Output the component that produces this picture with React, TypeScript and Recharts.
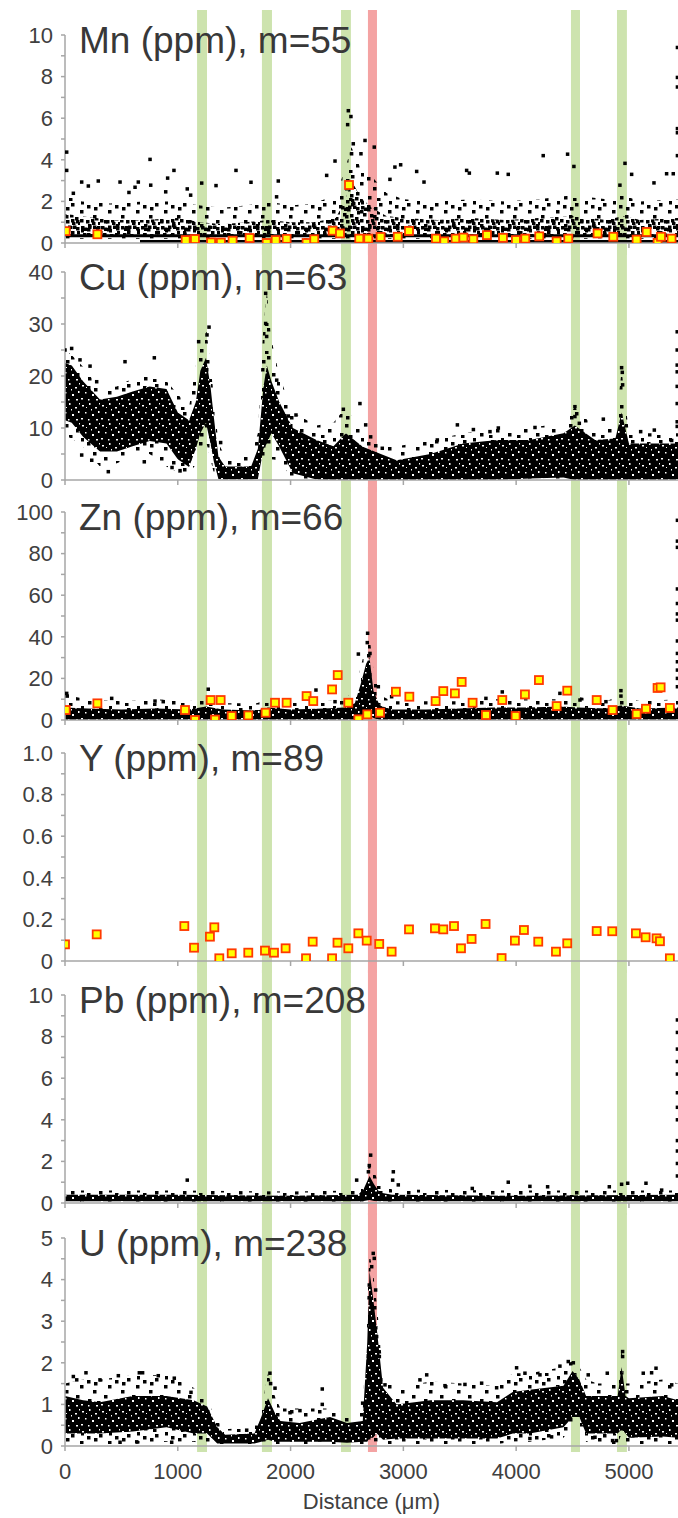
import { ComposedChart, XAxis, YAxis, Area, Scatter, ReferenceArea, ReferenceLine, Label } from 'recharts'

const X_MAX = 5435
const xTicks = [0, 1000, 2000, 3000, 4000, 5000]

// highlighted zones along the traverse (µm)
const greenBands = [[1171, 1259], [1746, 1835], [2447, 2535], [4486, 4566], [4894, 4982]]
const redBands = [[2686, 2766]]

// cloud envelopes: [x, haloLo, haloHi, coreLo, coreHi]
const mnCloud = [
  [0, 0.2, 2.3, 0.3, 1.4], [150, 0.2, 2.0, 0.3, 1.3], [400, 0.2, 1.9, 0.3, 1.1], [700, 0.2, 2.0, 0.3, 1.1],
  [1000, 0.2, 2.0, 0.3, 1.2], [1200, 0.2, 1.8, 0.3, 1.0], [1400, 0.2, 1.7, 0.3, 0.9], [1600, 0.2, 1.8, 0.3, 1.0],
  [1800, 0.2, 2.0, 0.3, 1.1], [2000, 0.2, 1.8, 0.3, 1.0], [2200, 0.2, 1.9, 0.3, 1.0], [2400, 0.2, 2.3, 0.3, 1.2],
  [2480, 0.2, 3.5, 0.3, 2.0], [2540, 0.2, 4.6, 0.3, 3.0], [2620, 0.2, 3.6, 0.3, 2.2], [2720, 0.2, 3.2, 0.3, 1.7],
  [2850, 0.2, 2.4, 0.3, 1.3], [3000, 0.2, 2.1, 0.3, 1.2], [3300, 0.2, 2.0, 0.3, 1.1], [3600, 0.2, 2.1, 0.3, 1.2],
  [3900, 0.2, 2.0, 0.3, 1.1], [4200, 0.2, 2.1, 0.3, 1.2], [4500, 0.2, 2.3, 0.3, 1.3], [4800, 0.2, 2.1, 0.3, 1.1],
  [4950, 0.2, 2.3, 0.3, 1.3], [5100, 0.2, 2.0, 0.3, 1.1], [5435, 0.2, 2.1, 0.3, 1.2],
]
const mnFloors = [[0, 5435, 0.35], [665, 5435, 0.07]]
const mnScatter = [
  [15, 4.37], [15, 3.49], [74, 2.39], [148, 2.93], [207, 2.74], [295, 2.98], [488, 2.93], [567, 2.43], [621, 2.68],
  [650, 2.93], [754, 4.02], [760, 2.78], [893, 2.46], [910, 3.12], [966, 3.49], [1084, 2.6], [1114, 2.3], [1212, 2.88],
  [1339, 2.76], [1516, 3.49], [1649, 2.92], [1876, 2.22], [1891, 2.98], [2320, 3.25], [2394, 3.94], [2506, 5.69],
  [2512, 6.36], [2535, 6.08], [2541, 4.29], [2556, 4.77], [2624, 4.29], [2660, 4.93], [2742, 4.61], [2881, 3.06],
  [2925, 3.65], [2976, 3.76], [3118, 3.44], [3183, 2.93], [3561, 3.49], [3585, 3.36], [3833, 3.36], [3930, 3.3],
  [4240, 4.2], [4456, 4.27], [4512, 3.68], [4920, 2.78], [4965, 3.83], [5024, 3.3], [5222, 2.89], [5334, 3.33],
  [5393, 3.33], [5430, 9.4], [5430, 7.96], [5430, 7.5], [5430, 5.5], [5430, 5.3], [5430, 4.2],
]
const mnMeasured = [
  [6, 0.57], [287, 0.42], [1070, 0.14], [1152, 0.19], [1295, 0.03], [1382, 0.02], [1486, 0.11], [1637, 0.24],
  [1788, 0.0], [1868, 0.14], [1965, 0.2], [2142, 0.0], [2210, 0.18], [2373, 0.59], [2438, 0.46], [2518, 2.79],
  [2609, 0.21], [2689, 0.21], [2798, 0.29], [2950, 0.3], [3050, 0.58], [3289, 0.21], [3363, 0.08], [3463, 0.21],
  [3532, 0.26], [3620, 0.18], [3741, 0.38], [3883, 0.25], [3998, 0.14], [4081, 0.21], [4205, 0.32], [4359, 0.08],
  [4462, 0.21], [4722, 0.46], [4861, 0.3], [5068, 0.16], [5157, 0.53], [5254, 0.01], [5284, 0.3], [5378, 0.21],
]

const cuCloud = [
  [0, 8.5, 25, 11.5, 22.5], [60, 8, 24, 11, 22], [160, 6.4, 21.8, 8.3, 19], [310, 2.6, 17.5, 5.5, 15.5],
  [460, 3.2, 18, 5.5, 16], [600, 4.5, 19.5, 6.5, 17], [750, 5, 20.5, 7.5, 18], [900, 2.6, 19, 7, 17.5],
  [1000, 1.5, 16.5, 4, 13], [1100, 1.3, 14, 2.5, 11.5], [1160, 3, 22, 6, 15], [1200, 6, 27, 9, 21],
  [1250, 7.5, 29.5, 11, 23.5], [1290, 4, 22, 7, 18], [1320, 1.3, 16, 3.5, 12], [1360, 0, 7, 0.2, 4.5],
  [1420, 0, 4.5, 0.1, 2.6], [1650, 0, 4.5, 0.1, 2.6], [1710, 0, 9, 0.2, 6], [1760, 3, 30, 6, 18],
  [1790, 4, 36, 7, 22], [1830, 4, 27, 9, 19], [1900, 3.8, 20, 6.4, 15], [2020, 0, 13, 1.3, 10],
  [2230, 0, 10.5, 0.1, 7.7], [2380, 0, 11, 0, 6.5], [2490, 0, 14, 0, 9], [2640, 0, 9, 0, 6.4],
  [2800, 0, 6.5, 0, 5], [2940, 0, 6.5, 0, 3.8], [3240, 0, 7.5, 0, 5], [3530, 0, 9, 0, 7],
  [3830, 0, 10, 0, 7.7], [4120, 0, 10, 0.3, 7.7], [4420, 0, 11, 0.5, 9], [4520, 0, 14, 0, 10.5],
  [4700, 0, 10, 0, 7.7], [4880, 0, 10, 0, 8], [4935, 0, 21, 0, 13], [5000, 0, 9, 0, 7],
  [5300, 0, 9, 0, 7], [5435, 0, 9, 0, 7],
]
const cuScatter = [
  [0, 25], [59, 25.3], [133, 23.1], [222, 21.9], [281, 18.9], [532, 22.75], [792, 23.5], [148, 4.8], [237, 3.8],
  [384, 1.6], [703, 3.5], [949, 2.4], [1020, 1.8], [1185, 26.6], [1259, 27.9], [1277, 29.4], [1380, 7.2],
  [1779, 35.9], [1779, 30.1], [1788, 27.6], [1877, 19.2], [1980, 12.3], [2048, 12.5], [2113, 8.3], [2468, 13.6],
  [2615, 14.7], [2666, 10.6], [2710, 8.3], [2813, 6.1], [3301, 7.7], [3479, 10.6], [3621, 9.7], [3768, 9.3],
  [3842, 10], [4167, 10.1], [4521, 14.1], [4521, 12.2], [4560, 10.9], [4773, 11.7], [4935, 21.6], [4941, 20.7],
  [4944, 18.3], [5104, 9.3], [5225, 9.6], [5379, 7.6], [5428, 28.5], [5428, 25], [5428, 22.1], [5428, 20.8],
  [5428, 18], [5428, 14.7], [5428, 11.2], [5428, 10.3],
]

const znCloud = [
  [0, 0, 12, 0, 6], [200, 0, 10, 0, 5.5], [500, 0, 9, 0, 5], [800, 0, 10, 0, 5.5], [1100, 0, 9, 0, 5],
  [1250, 0, 11, 0, 6.5], [1400, 0, 8, 0, 5], [1700, 0, 8, 0, 4.5], [1800, 0, 10, 0, 6], [2000, 0, 9, 0, 5],
  [2300, 0, 9, 0, 5.5], [2480, 0, 10, 0, 6], [2570, 0, 15, 0, 8], [2620, 0, 25, 1, 17], [2670, 0, 36, 2, 27],
  [2700, 0, 40, 2, 30], [2735, 0, 24, 1, 14], [2790, 0, 12, 0, 7], [2900, 0, 9, 0, 5], [3200, 0, 9, 0, 5],
  [3500, 0, 9, 0, 5.5], [3800, 0, 10, 0, 6], [4100, 0, 10, 0, 6], [4400, 0, 10, 0, 6.5], [4550, 0, 11, 0, 6],
  [4800, 0, 9, 0, 5.5], [4930, 0, 12, 0, 7], [5100, 0, 9, 0, 5.5], [5435, 0, 10, 0, 6],
]
const znScatter = [
  [15, 12.8], [20, 11.5], [414, 10.4], [798, 9.1], [871, 8.8], [1270, 14.8], [2225, 14.4], [2394, 8.8],
  [2601, 31.7], [2680, 37.2], [2683, 41.7], [2704, 32], [2778, 16], [2896, 11.2], [3732, 10.4], [3877, 13.5],
  [4388, 12.8], [4566, 9.6], [4796, 8.8], [4929, 14.1], [4929, 11.5], [5430, 96], [5430, 86], [5430, 83],
  [5430, 63], [5430, 56], [5430, 51], [5430, 48], [5430, 38], [5430, 32], [5430, 28], [5430, 24], [5430, 20],
  [5430, 16],
]
const znMeasured = [
  [6, 4.8], [287, 8.0], [1064, 4.8], [1152, 0], [1291, 9.6], [1330, 0.2], [1380, 9.6], [1478, 1.9], [1625, 2.2],
  [1779, 3.5], [1862, 8.3], [1965, 8.3], [2142, 11.5], [2201, 9.1], [2368, 14.7], [2418, 21.6], [2512, 8.3],
  [2601, 0.3], [2680, 2.7], [2793, 3.5], [2934, 13.6], [3053, 11.2], [3286, 9.1], [3354, 13.9], [3457, 12.8],
  [3517, 18.3], [3614, 8.3], [3732, 2.4], [3877, 9.6], [3995, 1.9], [4078, 12.3], [4202, 19.2], [4359, 6.7],
  [4453, 14.1], [4714, 9.6], [4855, 4.8], [5068, 2.9], [5151, 5.4], [5254, 15.4], [5281, 15.7], [5363, 5.8],
]

const yMeasured = [
  [0, 0.08], [281, 0.128], [1058, 0.168], [1144, 0.064], [1285, 0.117], [1324, 0.162], [1368, 0.013], [1478, 0.037],
  [1625, 0.04], [1773, 0.05], [1853, 0.04], [1956, 0.061], [2137, 0.013], [2196, 0.093], [2368, 0.013], [2416, 0.088],
  [2512, 0.061], [2601, 0.133], [2675, 0.098], [2786, 0.082], [2896, 0.045], [3050, 0.152], [3280, 0.157],
  [3354, 0.152], [3449, 0.168], [3511, 0.061], [3605, 0.106], [3729, 0.178], [3871, 0.014], [3989, 0.098],
  [4069, 0.149], [4196, 0.093], [4353, 0.045], [4453, 0.085], [4714, 0.144], [4852, 0.143], [5062, 0.133],
  [5148, 0.114], [5245, 0.109], [5275, 0.095], [5363, 0.013],
]

const pbCloud = [
  [0, 0.05, 0.6, 0.08, 0.4], [1000, 0.05, 0.6, 0.08, 0.4], [2000, 0.05, 0.55, 0.08, 0.35], [2600, 0.05, 0.6, 0.08, 0.4],
  [2650, 0.05, 1.1, 0.1, 0.7], [2700, 0.05, 1.9, 0.15, 1.3], [2740, 0.05, 1.5, 0.1, 0.9], [2790, 0.05, 0.9, 0.08, 0.5],
  [2900, 0.05, 0.65, 0.08, 0.4], [4000, 0.05, 0.6, 0.08, 0.35], [5435, 0.05, 0.6, 0.08, 0.4],
]
const pbScatter = [
  [1084, 1.1], [2586, 1.1], [2690, 1.5], [2698, 1.8], [2710, 2.3], [2905, 1.1], [2911, 1.5], [2955, 0.87],
  [3611, 0.7], [3930, 1.0], [4122, 0.8], [4279, 0.78], [4826, 0.78], [4935, 0.9], [4989, 0.95], [5151, 0.95],
  [5290, 0.62], [5430, 8.8], [5430, 8.2], [5430, 7.4], [5430, 6.8], [5430, 6.2], [5430, 5.3], [5430, 4.6],
  [5430, 4.0], [5430, 3.0], [5430, 2.5], [5430, 1.9], [5430, 1.3],
]

const uCloud = [
  [0, 0.05, 1.5, 0.3, 1.2], [160, 0.05, 1.6, 0.3, 1.1], [310, 0.05, 1.6, 0.3, 1.05], [600, 0.05, 1.7, 0.35, 1.2],
  [900, 0.1, 1.7, 0.45, 1.2], [1140, 0.1, 1.4, 0.3, 1.1], [1260, 0.05, 1.1, 0.3, 0.95], [1350, 0.05, 0.6, 0.06, 0.45],
  [1420, 0.05, 0.4, 0.06, 0.27], [1680, 0.05, 0.45, 0.06, 0.3], [1740, 0.05, 0.9, 0.1, 0.7], [1800, 0.1, 1.75, 0.15, 1.15],
  [1860, 0.05, 1.2, 0.1, 0.8], [1910, 0.05, 0.9, 0.1, 0.6], [2080, 0.05, 0.9, 0.1, 0.55], [2350, 0.05, 0.9, 0.1, 0.7],
  [2500, 0.05, 0.75, 0.08, 0.55], [2640, 0.05, 0.85, 0.1, 0.6], [2680, 0.05, 3.5, 0.1, 2.5], [2700, 0.1, 4.6, 0.2, 4.2],
  [2730, 0.1, 4.2, 0.2, 3.6], [2765, 0.1, 3.4, 0.3, 2.8], [2820, 0.05, 1.7, 0.15, 1.4], [2940, 0.05, 1.4, 0.18, 1.0],
  [3240, 0.05, 1.55, 0.18, 1.1], [3530, 0.05, 1.5, 0.18, 1.1], [3830, 0.05, 1.45, 0.18, 1.05], [3970, 0.1, 1.75, 0.3, 1.3],
  [4120, 0.1, 1.75, 0.3, 1.35], [4420, 0.2, 1.9, 0.45, 1.45], [4500, 0.5, 2.05, 0.7, 1.8], [4560, 0.5, 1.9, 0.7, 1.6],
  [4620, 0.1, 1.6, 0.3, 1.2], [4720, 0.05, 1.5, 0.3, 1.2], [4900, 0.05, 1.5, 0.3, 1.2], [4935, 0.3, 2.3, 0.4, 1.9],
  [4970, 0.1, 1.5, 0.3, 1.2], [5000, 0.05, 1.5, 0.2, 1.15], [5300, 0.05, 1.6, 0.23, 1.2], [5435, 0.05, 1.5, 0.2, 1.1],
]
const uScatter = [
  [74, 1.67], [104, 1.59], [186, 1.76], [310, 1.59], [473, 1.69], [659, 1.76], [688, 1.76], [827, 1.69], [969, 1.63],
  [1117, 1.29], [488, 0.09], [636, 0.1], [946, 0.09], [1611, 0.38], [1700, 0.45], [1817, 1.75], [1823, 1.5],
  [1862, 1.39], [1995, 0.8], [2083, 0.85], [2281, 1.37], [2281, 1.0], [2639, 1.03], [2698, 3.87], [2704, 2.87],
  [2719, 4.31], [2733, 4.63], [2742, 4.51], [2754, 3.75], [2763, 2.63], [2787, 2.15], [2837, 1.47], [3147, 1.59],
  [3207, 1.71], [3369, 1.45], [3546, 1.48], [3694, 1.51], [3827, 1.4], [4004, 1.88], [4078, 1.75], [4211, 1.71],
  [4388, 1.92], [4462, 2.03], [4507, 2.0], [4639, 1.71], [4808, 1.75], [4944, 2.27], [4944, 2.15], [5127, 1.75],
  [5201, 1.76], [5240, 1.87], [5379, 1.47], [4122, 0.18], [4314, 0.22], [4699, 0.21], [4855, 0.13], [4889, 0.13],
]

const mnTicks = [0, 1, 2, 3, 4, 5, 6, 7, 8, 9, 10]
const mnMajor = [0, 2, 4, 6, 8, 10]
const cuTicks = [0, 5, 10, 15, 20, 25, 30, 35, 40]
const cuMajor = [0, 10, 20, 30, 40]
const znTicks = [0, 10, 20, 30, 40, 50, 60, 70, 80, 90, 100]
const znMajor = [0, 20, 40, 60, 80, 100]
const yTicks = [0, 0.1, 0.2, 0.3, 0.4, 0.5, 0.6, 0.7, 0.8, 0.9, 1.0]
const yMajor = [0, 0.2, 0.4, 0.6, 0.8, 1.0]
const uTicks = [0, 0.5, 1, 1.5, 2, 2.5, 3, 3.5, 4, 4.5, 5]
const uMajor = [0, 1, 2, 3, 4, 5]

const AXIS = '#a6a6a6'
const INK = '#404040'
const FONT = '"Liberation Sans", Arial, sans-serif'
const PLOT_H = 208

const toRows = (rows: number[][]) => rows.map(([x, a, b, c, d]) => ({ x, halo: [a, b], core: [c, d] }))
const toPts = (pts: number[][]) => pts.map(([x, y]) => ({ x, y }))

const BlackDot = (p: any) => <rect x={p.cx - 1.75} y={p.cy - 1.75} width={3.5} height={3.5} fill="#000" />
const YellowBox = (p: any) => (
  <rect x={p.cx - 4} y={p.cy - 4} width={8} height={8} fill="#ffff00" stroke="#ff3a00" strokeWidth={1.8} />
)

// speck layouts for the point-cloud fills
const denseHoles = [
  [2, 3, 2, 1.5], [9, 1, 1.5, 2], [15, 5, 2, 1.5], [5, 10, 1.5, 1.5], [12, 12, 2, 2], [18, 9, 1.5, 2],
  [1, 16, 2, 1.5], [8, 17, 1.5, 1.5], [16, 17, 2, 1.5], [11, 7, 1, 1.5], [6, 5, 1, 1], [19, 1, 1, 1.5],
]
const midDots = [
  [1, 1], [7, 3], [13, 0.5], [17, 6], [3, 8], [10, 9], [15, 12], [0, 14], [6, 15], [12, 17], [18, 17], [8, 0.5],
  [4, 2.5], [11, 14], [16, 2],
]
const sparseDots = [[3, 4], [15, 2], [24, 9], [9, 14], [20, 19], [4, 23], [13, 25], [10, 6], [25, 0]]

interface PanelProps {
  title: string
  top: number
  yMax: number
  ticks: number[]
  major: number[]
  fmt?: (v: number) => string
  cloud?: number[][]
  corePattern?: string
  floors?: number[][]
  scatter?: number[][]
  measured?: number[][]
  bottom?: boolean
}

function Panel({ title, top, yMax, ticks, major, fmt, cloud, corePattern = 'dense', floors, scatter, measured, bottom }: PanelProps) {
  const xh = bottom ? 72 : 16
  const height = 30 + PLOT_H + xh
  // bands run from 25px above the plot to just below it so they join up between panels
  const bandTop = yMax * (1 + 25 / PLOT_H)
  const bandBottom = -yMax * ((bottom ? 6 : 12) / PLOT_H)
  return (
    <>
      <div style={{ position: 'absolute', left: 0, top: top - 30 }}>
        <ComposedChart width={678} height={height} data={cloud ? toRows(cloud) : undefined}
          margin={{ top: 30, right: 0, bottom: 0, left: 0 }}>
          <XAxis type="number" dataKey="x" domain={[0, X_MAX]} ticks={xTicks} allowDataOverflow height={xh}
            stroke={AXIS} strokeWidth={1.5} tickSize={5} tickMargin={12}
            tick={{ fill: INK, fontSize: 22 }} tickFormatter={v => (bottom ? String(v) : '')}>
            {bottom && <Label value="Distance (μm)" position="insideBottom" offset={9} fill={INK} fontSize={22} />}
          </XAxis>
          <YAxis type="number" domain={[0, yMax]} ticks={ticks} allowDataOverflow width={65} interval={0}
            stroke={AXIS} strokeWidth={1.5} tickSize={4} tickMargin={8} tick={{ fill: INK, fontSize: 22 }}
            tickFormatter={v => (major.includes(v) ? (fmt ? fmt(v) : String(v)) : '')} />
          {greenBands.map(([a, b], i) => (
            <ReferenceArea key={`g${i}`} x1={a} x2={b} y1={bandBottom} y2={bandTop} ifOverflow="visible"
              fill="#cde3ae" fillOpacity={1} stroke="none" />
          ))}
          {redBands.map(([a, b], i) => (
            <ReferenceArea key={`r${i}`} x1={a} x2={b} y1={bandBottom} y2={bandTop} ifOverflow="visible"
              fill="#f4a3a3" fillOpacity={1} stroke="none" />
          ))}
          {cloud && (
            <Area dataKey="halo" type="linear" stroke="none" fill="url(#sparse)" fillOpacity={1}
              dot={false} activeDot={false} isAnimationActive={false} />
          )}
          {cloud && (
            <Area dataKey="core" type="linear" stroke="none" fill={`url(#${corePattern})`} fillOpacity={1}
              dot={false} activeDot={false} isAnimationActive={false} />
          )}
          {floors?.map(([x1, x2, y], i) => (
            <ReferenceLine key={i} segment={[{ x: x1, y }, { x: x2, y }]} stroke="#000" strokeWidth={3} ifOverflow="visible" />
          ))}
          {scatter && <Scatter data={toPts(scatter)} dataKey="y" shape={BlackDot} isAnimationActive={false} />}
          {measured && <Scatter data={toPts(measured)} dataKey="y" shape={YellowBox} isAnimationActive={false} />}
        </ComposedChart>
      </div>
      <div style={{ position: 'absolute', left: 79, top: top - 13.3, fontSize: 37, lineHeight: '37px', color: '#383838', whiteSpace: 'nowrap' }}>
        {title}
      </div>
    </>
  )
}

export default function App() {
  return (
    <div style={{ position: 'absolute', left: 0, top: 0, width: 678, height: 1518, overflow: 'hidden', background: '#fff', fontFamily: FONT }}>
      <svg width={0} height={0} style={{ position: 'absolute' }}>
        <defs>
          <pattern id="dense" width={20} height={20} patternUnits="userSpaceOnUse">
            <rect width={20} height={20} fill="#000" />
            {denseHoles.map(([x, y, w, h], i) => <rect key={i} x={x} y={y} width={w} height={h} fill="#fff" />)}
          </pattern>
          <pattern id="mid" width={20} height={20} patternUnits="userSpaceOnUse">
            {midDots.map(([x, y], i) => <rect key={i} x={x} y={y} width={3.5} height={3.5} fill="#000" />)}
          </pattern>
          <pattern id="sparse" width={28} height={28} patternUnits="userSpaceOnUse">
            {sparseDots.map(([x, y], i) => <rect key={i} x={x} y={y} width={3.5} height={3.5} fill="#000" />)}
          </pattern>
        </defs>
      </svg>

      <Panel title="Mn (ppm), m=55" top={35} yMax={10} ticks={mnTicks} major={mnMajor}
        cloud={mnCloud} corePattern="mid" floors={mnFloors} scatter={mnScatter} measured={mnMeasured} />
      <Panel title="Cu (ppm), m=63" top={272} yMax={40} ticks={cuTicks} major={cuMajor}
        cloud={cuCloud} scatter={cuScatter} />
      <Panel title="Zn (ppm), m=66" top={512} yMax={100} ticks={znTicks} major={znMajor}
        cloud={znCloud} scatter={znScatter} measured={znMeasured} />
      <Panel title="Y (ppm), m=89" top={753} yMax={1} ticks={yTicks} major={yMajor}
        fmt={v => (v === 0 ? '0' : v.toFixed(1))} measured={yMeasured} />
      <Panel title="Pb (ppm), m=208" top={995} yMax={10} ticks={mnTicks} major={mnMajor}
        cloud={pbCloud} scatter={pbScatter} />
      <Panel title="U (ppm), m=238" top={1238} yMax={5} ticks={uTicks} major={uMajor}
        cloud={uCloud} scatter={uScatter} bottom />
    </div>
  )
}
